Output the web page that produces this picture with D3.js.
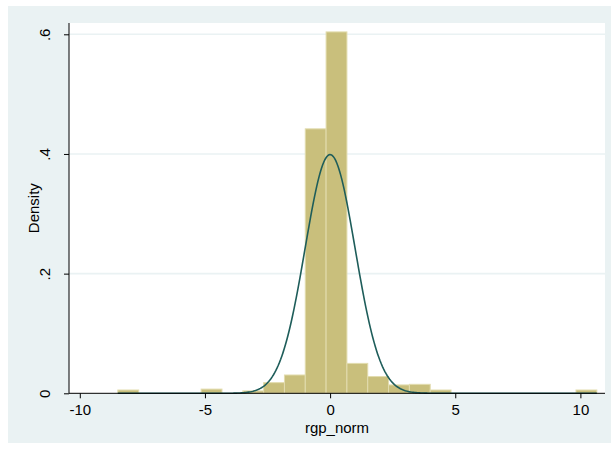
<!DOCTYPE html>
<html>
<head>
<meta charset="utf-8">
<script src="https://cdn.jsdelivr.net/npm/d3@7"></script>
<style>
  body { margin: 0; background: #fff; }
  text { font-family: "Liberation Sans", Arial, sans-serif; fill: #000; }
</style>
</head>
<body>
<script>
// histogram of rgp_norm, density scale
let binStart = -8.48;
let binWidth = 0.832;
let densities = [0.0055, 0, 0, 0, 0.007, 0, 0.004, 0.0178, 0.0306, 0.442, 0.604,
                 0.050, 0.028, 0.014, 0.015, 0.0055, 0, 0, 0, 0, 0, 0, 0.0055];
let xTicks = [-10, -5, 0, 5, 10];
let xTickLabels = ["-10", "-5", "0", "5", "10"];
let yTicks = [0, 0.2, 0.4, 0.6];
let yTickLabels = ["0", ".2", ".4", ".6"];
// normal overlay (mean, sd)
let normMean = 0;
let normSd = 1;

let width = 611;
let height = 451;

let svg = d3.select("body").append("svg")
  .attr("width", width)
  .attr("height", height);

// graph region (stata bluish) with thin white border
svg.append("rect")
  .attr("x", 8).attr("y", 6)
  .attr("width", width - 8).attr("height", 437)
  .style("fill", "#eaf2f3");

let plot = { left: 69, right: 605, top: 23, bottom: 393.3 };

svg.append("rect")
  .attr("x", plot.left).attr("y", plot.top)
  .attr("width", plot.right - plot.left).attr("height", plot.bottom - plot.top)
  .style("fill", "#fff");

let x = d3.scaleLinear().domain([-10, 10]).range([79.8, 580.4]);
let y = d3.scaleLinear().domain([0, 0.6]).range([plot.bottom, 34.3]);

// grid lines
svg.selectAll(".grid")
  .data(yTicks.slice(1))
  .enter().append("line")
  .attr("class", "grid")
  .attr("x1", plot.left).attr("x2", plot.right)
  .attr("y1", d => y(d)).attr("y2", d => y(d))
  .style("stroke", "#eaf2f3")
  .style("stroke-width", 1.6);

// bars
let bins = densities.map((d, i) => ({ x0: binStart + i * binWidth, x1: binStart + (i + 1) * binWidth, d: d }));

svg.selectAll(".bar")
  .data(bins.filter(b => b.d > 0))
  .enter().append("rect")
  .attr("class", "bar")
  .attr("x", b => x(b.x0))
  .attr("y", b => y(b.d))
  .attr("width", b => x(b.x1) - x(b.x0))
  .attr("height", b => y(0) - y(b.d))
  .style("fill", "#c9bf7c")
  .style("stroke", "#e2dcae")
  .style("stroke-width", 1);

// normal density over the data range
let lo = binStart, hi = binStart + densities.length * binWidth;
let curve = d3.range(0, 401).map(i => {
  let v = lo + (hi - lo) * i / 400;
  let z = (v - normMean) / normSd;
  return [v, Math.exp(-0.5 * z * z) / (normSd * Math.sqrt(2 * Math.PI))];
});

svg.append("path")
  .datum(curve)
  .attr("d", d3.line().x(d => x(d[0])).y(d => y(d[1])))
  .style("fill", "none")
  .style("stroke", "#1e5d5a")
  .style("stroke-width", 1.6);

// axes
let xAxis = d3.axisBottom(x).tickValues(xTicks).tickSize(5).tickPadding(6).tickFormat((d, i) => xTickLabels[i]);
let gx = svg.append("g")
  .attr("transform", "translate(0," + plot.bottom + ")")
  .call(xAxis);
gx.select(".domain").attr("d", "M" + plot.left + ",0H" + plot.right);
gx.selectAll("path, line").style("stroke", "#000").style("stroke-width", 1);
gx.selectAll("text").style("font-size", "15px").attr("dy", "0.71em");

let yAxis = d3.axisLeft(y).tickValues(yTicks).tickSize(5).tickFormat((d, i) => yTickLabels[i]);
let gy = svg.append("g")
  .attr("transform", "translate(" + plot.left + ",0)")
  .call(yAxis);
gy.select(".domain").attr("d", "M0," + plot.top + "V" + plot.bottom);
gy.selectAll("path, line").style("stroke", "#000").style("stroke-width", 1);
gy.selectAll("text")
  .style("font-size", "15px")
  .attr("x", null).attr("dy", null)
  .attr("text-anchor", "middle")
  .attr("transform", "translate(-19,0) rotate(-90)");

// axis titles
svg.append("text")
  .attr("x", (plot.left + plot.right) / 2)
  .attr("y", 433)
  .attr("text-anchor", "middle")
  .style("font-size", "15px")
  .text("rgp_norm");

svg.append("text")
  .attr("transform", "translate(39," + (plot.top + plot.bottom) / 2 + ") rotate(-90)")
  .attr("text-anchor", "middle")
  .style("font-size", "15px")
  .text("Density");
</script>
</body>
</html>
